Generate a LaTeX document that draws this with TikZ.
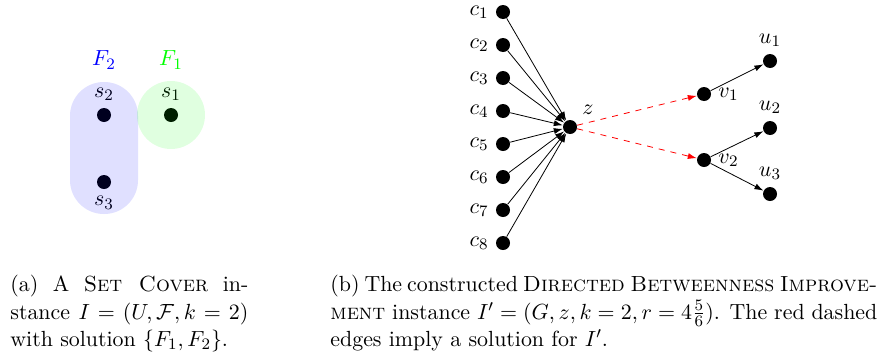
\documentclass[tikz,border=0pt]{standalone}
\usepackage{amssymb}
\usetikzlibrary{arrows.meta}
\begin{document}
\begin{tikzpicture}[x=0.5pt,y=-0.5pt,
  every node/.style={font=\fontsize{10.95}{13.6}\selectfont},
  dot/.style={circle,fill=black,inner sep=0pt,minimum size=7pt},
  arr/.style={-{Latex[length=4.5pt,width=3pt]}},
  sol/.style={arr,red,dashed},
  setreg/.style={fill opacity=0.12,inner sep=0pt},
  captext/.style={anchor=north west,inner sep=0pt,align=justify}]
  \useasboundingbox (0,0) rectangle (882,354);
  % (a) the set cover instance
  \node[dot,label=above:$s_2$] (s2) at (104,115) {};
  \node[dot,label=below:$s_3$] (s3) at (104,182) {};
  \node[dot,label=above:$s_1$] (s1) at (171,115) {};
  \node[setreg,fill=blue,rounded corners=16.9pt,minimum width=34pt,minimum height=66pt] (F2) at (104,148) {};
  \node[setreg,fill=green,circle,minimum size=34pt] (F1) at (171,115) {};
  \node[text=blue] (F2lab) at (104,60) {$F_2$};
  \node[text=green] (F1lab) at (171,60) {$F_1$};
  % (b) the betweenness instance
  \node[dot,label=left:$c_1$] (c1) at (503,12) {};
  \node[dot,label=left:$c_2$] (c2) at (503,45) {};
  \node[dot,label=left:$c_3$] (c3) at (503,78) {};
  \node[dot,label=left:$c_4$] (c4) at (503,111) {};
  \node[dot,label=left:$c_5$] (c5) at (503,144) {};
  \node[dot,label=left:$c_6$] (c6) at (503,177) {};
  \node[dot,label=left:$c_7$] (c7) at (503,210) {};
  \node[dot,label=left:$c_8$] (c8) at (503,243) {};
  \node[dot,label=above right:$z$] (z) at (570,127) {};
  \node[dot,label=right:$v_1$] (v1) at (704,94) {};
  \node[dot,label=right:$v_2$] (v2) at (704,160) {};
  \node[dot,label=above:$u_1$] (u1) at (770,61) {};
  \node[dot,label=above:$u_2$] (u2) at (770,128) {};
  \node[dot,label=above:$u_3$] (u3) at (770,194) {};
  \draw[arr] (c1) -- (z);
  \draw[arr] (c2) -- (z);
  \draw[arr] (c3) -- (z);
  \draw[arr] (c4) -- (z);
  \draw[arr] (c5) -- (z);
  \draw[arr] (c6) -- (z);
  \draw[arr] (c7) -- (z);
  \draw[arr] (c8) -- (z);
  \draw[sol] (z) -- (v1);
  \draw[sol] (z) -- (v2);
  \draw[arr] (v1) -- (u1);
  \draw[arr] (v2) -- (u2);
  \draw[arr] (v2) -- (u3);
  % captions
  \node[captext,text width=119pt] (capa) at (10,275) {(a) A \textsc{Set Cover} in\-stance $I=(U,\mathcal{F},k=2)$ with solution $\{F_1,F_2\}$.};
  \node[captext,text width=273.5pt] (capb) at (330,275) {(b) The constructed \textsc{Directed Betweenness Improve\-ment} instance $I'=(G,z,k=2,r=4\frac{5}{6})$. The red dashed edges imply a solution for $I'$.};
\end{tikzpicture}
\end{document}
